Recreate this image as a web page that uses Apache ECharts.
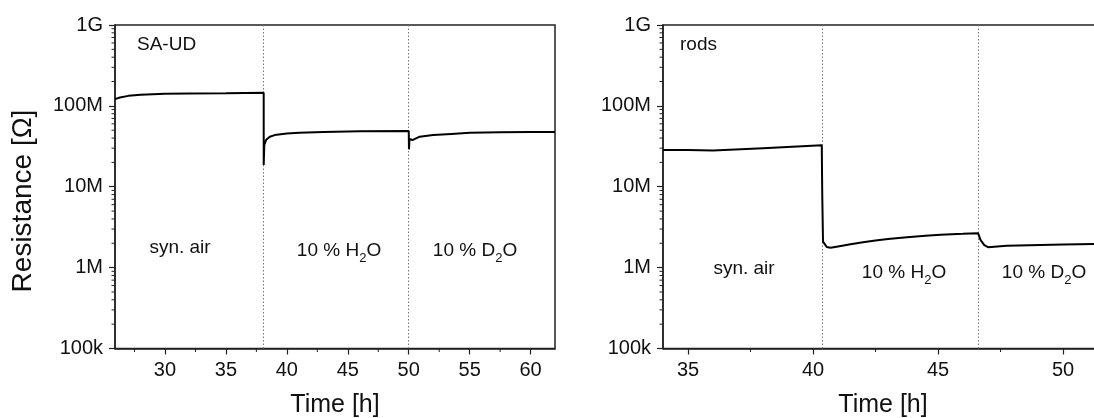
<!DOCTYPE html>
<html>
<head>
<meta charset="utf-8">
<script src="https://cdn.jsdelivr.net/npm/echarts@6/dist/echarts.min.js"></script>
<style>
  html, body { margin: 0; padding: 0; background: #fff; }
  #chart { width: 1094px; height: 418px; }
</style>
</head>
<body>
<div id="chart"></div>
<script>
// Resistance transients, SA-UD sample (left) and rods sample (right)
const saudTime = [25.9, 26.3, 27.0, 28.0, 29.0, 30.0, 32.0, 35.0, 38.1, 38.1, 38.15, 38.3, 38.6, 39.0, 40.0, 41.0, 43.0, 46.0, 50.0, 50.02, 50.06, 50.3, 50.9, 52.0, 53.5, 55.0, 57.5, 60.0, 62.0];
const saudMOhm = [121, 127, 133, 137, 139, 141, 142, 143, 145, 18.6, 33, 38, 41.5, 43.5, 45.5, 46.6, 47.5, 48.5, 49, 29, 39, 37.8, 41.6, 43.5, 45, 46.5, 47.2, 47.5, 47.5];

const rodsTime = [34.0, 35.0, 36.0, 38.0, 40.35, 40.37, 40.4, 40.55, 40.7, 41.0, 41.5, 42.0, 42.5, 43.0, 43.76, 44.5, 45.1, 46.0, 46.6, 46.62, 46.7, 46.85, 47.0, 47.75, 49.1, 50.0, 51.6];
const rodsMOhm = [28.5, 28.4, 28.0, 30.0, 32.5, 8.0, 2.1, 1.8, 1.76, 1.83, 1.95, 2.06, 2.17, 2.26, 2.38, 2.48, 2.55, 2.62, 2.67, 2.62, 2.2, 1.9, 1.79, 1.86, 1.91, 1.93, 1.96];

// gas switching times (dotted markers)
const saudSwitch = [38.1, 50.0];
const rodsSwitch = [40.35, 46.62];

// axis ticks
const saudXTicks = [30, 35, 40, 45, 50, 55, 60];
const saudXMinor = [27.5, 32.5, 37.5, 42.5, 47.5, 52.5, 57.5];
const rodsXTicks = [35, 40, 45, 50];
const rodsXMinor = [37.5, 42.5, 47.5];
const yDecades = [1e5, 1e6, 1e7, 1e8, 1e9];
const yTickLabels = ['100k', '1M', '10M', '100M', '1G'];

// text
const saudTitle = 'SA-UD';
const rodsTitle = 'rods';
const phaseLabels = ['syn. air', '10 % H{sub|2}O', '10 % D{sub|2}O'];
const xName = 'Time [h]';
const yName = 'Resistance [\u03A9]';

const FONT = '"Liberation Sans", Arial, Helvetica, sans-serif';
const INK = '#111';

const pairs = (xs, ys) => xs.map((x, i) => [x, ys[i] * 1e6]);

// minor log ticks 2..9 within each decade
const yMinor = [];
for (let d = 0; d < yDecades.length - 1; d++) {
  for (let m = 2; m <= 9; m++) yMinor.push(yDecades[d] * m);
}

function minorTickData(xMin, xMinor) {
  const out = [];
  yMinor.forEach(v => out.push([xMin, v, 0]));
  xMinor.forEach(v => out.push([v, yDecades[0], 1]));
  return out;
}

function renderMinor(params, api) {
  const p = api.coord([api.value(0), api.value(1)]);
  const kind = api.value(2);
  const shape = kind === 0
    ? { x1: p[0] - 3.5, y1: p[1], x2: p[0], y2: p[1] }
    : { x1: p[0], y1: p[1], x2: p[0], y2: p[1] + 3.5 };
  return { type: 'line', shape: shape, style: { stroke: '#222', lineWidth: 1 } };
}

const saudRange = [25.9, 62.0];
const rodsRange = [34.0, 51.6];

function makeX(gridIndex, range, ticks) {
  return {
    type: 'value', gridIndex: gridIndex, min: range[0], max: range[1],
    axisLine: { show: true, lineStyle: { color: '#222', width: 1.5 } },
    axisTick: { show: true, length: 6, customValues: ticks, lineStyle: { color: '#222', width: 1.2 } },
    axisLabel: { customValues: ticks, margin: 11.5, color: INK, fontSize: 20, fontFamily: FONT },
    splitLine: { show: false },
    name: xName, nameLocation: 'middle', nameGap: 44.5,
    nameTextStyle: { fontSize: 25, color: INK, fontFamily: FONT }
  };
}

function makeY(gridIndex) {
  return {
    type: 'log', logBase: 10, gridIndex: gridIndex, min: 1e5, max: 1e9,
    axisLine: { show: true, lineStyle: { color: '#222', width: 1.5 } },
    axisTick: { show: true, length: 6, customValues: yDecades, lineStyle: { color: '#222', width: 1.2 } },
    axisLabel: {
      customValues: yDecades, margin: 12, color: INK, fontSize: 20, fontFamily: FONT,
      formatter: v => yTickLabels[Math.round(Math.log10(v)) - 5]
    },
    splitLine: { show: false }
  };
}

function switchLines(xs) {
  return {
    silent: true, symbol: ['none', 'none'], label: { show: false },
    lineStyle: { color: '#777', width: 1, type: [1.5, 2] },
    data: xs.map(x => ({ xAxis: x }))
  };
}

function phaseText(x, y, text) {
  return {
    type: 'text', x: x, y: y,
    style: {
      text: text, fill: INK, font: '19px ' + FONT, lineHeight: 28,
      align: 'center', verticalAlign: 'middle',
      rich: { sub: { fontSize: 13, lineHeight: 13, verticalAlign: 'bottom', fontFamily: FONT, fill: INK } }
    }
  };
}

const gridBase = { top: 25, width: 440, height: 323.5, show: true, borderColor: '#222', borderWidth: 1.5, backgroundColor: 'transparent', outerBoundsMode: 'none', containLabel: false };

const chart = echarts.init(document.getElementById('chart'), null, { renderer: 'canvas' });
chart.setOption({
  animation: false,
  backgroundColor: '#fff',
  grid: [
    Object.assign({ left: 115 }, gridBase),
    Object.assign({ left: 663 }, gridBase)
  ],
  xAxis: [makeX(0, saudRange, saudXTicks), makeX(1, rodsRange, rodsXTicks)],
  yAxis: [makeY(0), makeY(1)],
  series: [
    {
      type: 'line', xAxisIndex: 0, yAxisIndex: 0, data: pairs(saudTime, saudMOhm),
      showSymbol: false, lineStyle: { color: '#000', width: 2 }, z: 5,
      markLine: switchLines(saudSwitch)
    },
    {
      type: 'line', xAxisIndex: 1, yAxisIndex: 1, data: pairs(rodsTime, rodsMOhm),
      showSymbol: false, lineStyle: { color: '#000', width: 2 }, z: 5,
      markLine: switchLines(rodsSwitch)
    },
    {
      type: 'custom', xAxisIndex: 0, yAxisIndex: 0, clip: false, silent: true,
      data: minorTickData(saudRange[0], saudXMinor), renderItem: renderMinor
    },
    {
      type: 'custom', xAxisIndex: 1, yAxisIndex: 1, clip: false, silent: true,
      data: minorTickData(rodsRange[0], rodsXMinor), renderItem: renderMinor
    }
  ],
  graphic: [
    {
      type: 'text', x: 23, y: 201, rotation: Math.PI / 2,
      style: { text: yName, fill: INK, font: '28px ' + FONT, align: 'center', verticalAlign: 'middle' }
    },
    { type: 'text', x: 137, y: 45, style: { text: saudTitle, fill: INK, font: '19px ' + FONT, align: 'left', verticalAlign: 'middle' } },
    { type: 'text', x: 680, y: 45, style: { text: rodsTitle, fill: INK, font: '19px ' + FONT, align: 'left', verticalAlign: 'middle' } },
    phaseText(180, 248, phaseLabels[0]),
    phaseText(339, 251, phaseLabels[1]),
    phaseText(475, 251, phaseLabels[2]),
    phaseText(744, 269, phaseLabels[0]),
    phaseText(904, 273, phaseLabels[1]),
    phaseText(1044, 273, phaseLabels[2])
  ]
});
</script>
</body>
</html>
